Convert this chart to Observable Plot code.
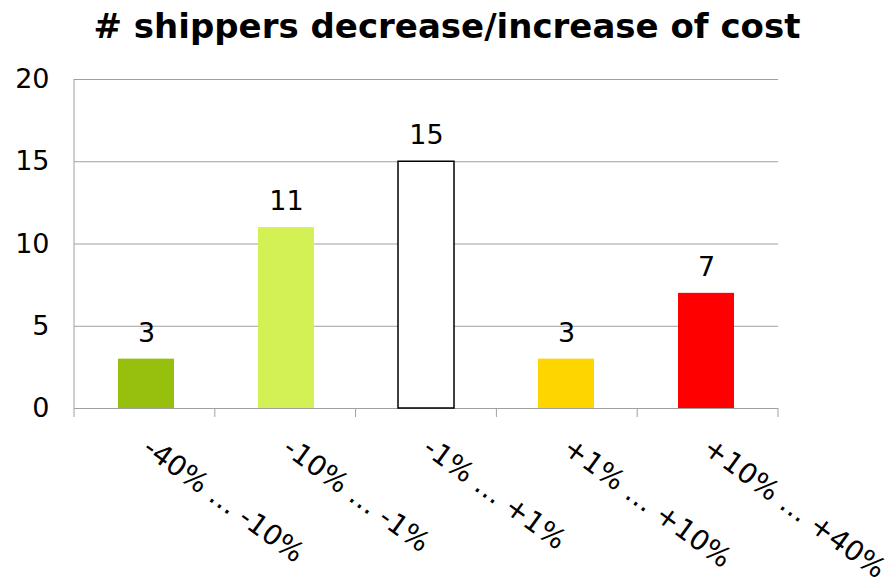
<!DOCTYPE html>
<html><head><meta charset="utf-8">
<script src="https://cdn.jsdelivr.net/npm/d3@7"></script>
<script src="https://cdn.jsdelivr.net/npm/@observablehq/plot@0.6"></script>
<style>
body{margin:0;background:#fff;font-family:"DejaVu Sans",Verdana,sans-serif;overflow:hidden}
#title{height:55px;line-height:52px;text-align:center;font-size:34px;font-weight:bold;width:888px;padding-left:6px;box-sizing:border-box;color:#000;white-space:nowrap}
</style></head><body>
<div id="title"># shippers decrease/increase of cost</div>
<div id="chart"></div>
<script>
const categories = ["-40% … -10%", "-10% … -1%", "-1% … +1%", "+1% … +10%", "+10% … +40%"];
const counts = [3, 11, 15, 3, 7];
const fills = ["#97bf0d", "#d3f154", "#ffffff", "#ffd500", "#ff0000"];
const strokes = ["none", "none", "#000000", "none", "none"];
const yTicks = [0, 5, 10, 15, 20];
const data = categories.map((c, i) => ({category: c, count: counts[i], fill: fills[i], stroke: strokes[i]}));

// left axis line and category boundary ticks, drawn from the plot's own scales/dimensions
const decor = (index, scales, values, dimensions) => {
  const {width, marginLeft, marginRight} = dimensions;
  const y0 = scales.y(0), yTop = scales.y(20);
  const n = categories.length;
  const step = (width - marginLeft - marginRight) / n;
  const g = d3.create("svg:g").attr("stroke", "#a0a0a0").attr("fill", "none");
  g.append("line").attr("x1", marginLeft).attr("x2", marginLeft).attr("y1", yTop).attr("y2", y0);
  d3.range(n + 1).forEach(i => {
    const x = marginLeft + i * step;
    g.append("line").attr("x1", x).attr("x2", x).attr("y1", y0).attr("y2", y0 + 9);
  });
  return g.node();
};

const chart = Plot.plot({
  width: 888, height: 522,
  marginTop: 24, marginBottom: 169, marginLeft: 74, marginRight: 110,
  style: {fontFamily: "DejaVu Sans, Verdana, sans-serif", fontSize: "27px", color: "#000", background: "#fff", overflow: "visible"},
  x: {domain: categories, paddingInner: 0.6, paddingOuter: 0.3, label: null},
  y: {domain: [0, 20], label: null},
  color: {type: "identity"},
  marks: [
    Plot.gridY(yTicks, {stroke: "#a0a0a0", strokeOpacity: 1}),
    Plot.axisY(yTicks, {tickSize: 0, tickPadding: 25, fontSize: 27, label: null}),
    Plot.axisX({tickSize: 0, tickPadding: 36, tickRotate: 36, fontSize: 28, label: null}),
    Plot.barY(data, {x: "category", y: "count", fill: "fill", stroke: "stroke", strokeWidth: 1.5}),
    decor,
    Plot.text(data, {x: "category", y: "count", text: d => String(d.count), dy: -26, fontSize: 27, fill: "#000"})
  ]
});
document.getElementById("chart").appendChild(chart);
</script>
</body></html>
